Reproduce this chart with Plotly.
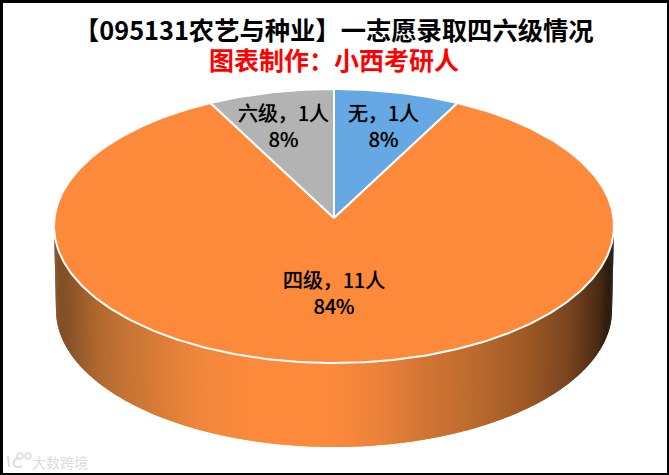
import numpy as np
import plotly.graph_objects as go

# ---- chart data ----
categories = ["无", "四级", "六级"]
counts = [1, 11, 1]
percents = [8, 84, 8]
slice_colors = ["#65A8E4", "#FD8A3B", "#B3B3B3"]
title_text = "【095131农艺与种业】一志愿录取四六级情况"
subtitle_text = "图表制作：小西考研人"
watermark_text = "大数跨境"

# ---- drawing geometry (axes run in window pixels) ----
CX, CY, RX, RY = 334.0, 226.0, 280.0, 137.0   # top face
BX, BY, BRX, BRY = 334.0, 310.0, 278.0, 137.0 # bottom rim
TILT = 8.0 / RY                               # apex sits above the ellipse centre
LABEL_R = [0.73, 0.53, 0.73]
LABEL_XSHIFT = [3, 0, -4]
FONT = "Noto Sans CJK SC"

# wall shading: x position -> colour
wall_x = [54, 70, 100, 130, 170, 200, 250, 330, 380, 430, 480, 530, 570, 600, 614]
wall_rgb = [(125, 76, 36), (138, 84, 40), (179, 106, 47), (199, 117, 53), (224, 127, 56),
            (240, 134, 59), (253, 138, 59), (253, 138, 59), (236, 130, 58), (208, 116, 52),
            (185, 106, 46), (156, 88, 38), (122, 69, 32), (74, 44, 20), (30, 18, 8)]


def project(theta, r=1.0):
    """Clockwise angle from 12 o'clock on the disc -> window pixels."""
    x, y = r * np.sin(theta), r * np.cos(theta)
    d = 1 + TILT * y
    return CX + RX * x * np.sqrt(1 - TILT ** 2) / d, CY - RY * (y + TILT) / d


fig = go.Figure()

# side wall: thin vertical strips along the front half of the rim
phi = np.linspace(np.pi, 0, 281)
tx, ty = CX + RX * np.cos(phi), CY + RY * np.sin(phi)
bx, by = BX + BRX * np.cos(phi), BY + BRY * np.sin(phi)
for i in range(len(phi) - 1):
    j = min(i + 2, len(phi) - 1)
    mid = (tx[i] + tx[j]) / 2
    c = [np.interp(mid, wall_x, [v[k] for v in wall_rgb]) for k in range(3)]
    col = f"rgb({c[0]:.0f},{c[1]:.0f},{c[2]:.0f})"
    fig.add_trace(go.Scatter(
        x=[tx[i], tx[j], bx[j], bx[i], tx[i]], y=[ty[i], ty[j], by[j], by[i], ty[i]],
        mode="lines", fill="toself", fillcolor=col, line=dict(width=0),
        hoverinfo="skip", showlegend=False))

# top face wedges, sized from the counts
total = sum(counts)
edges = np.cumsum([0] + counts) / total * 2 * np.pi
annotations = []
for k, name in enumerate(categories):
    th = np.linspace(edges[k], edges[k + 1], max(8, int(counts[k] * 40)))
    px, py = project(th)
    ax, ay = project(0.0, 0.0)
    fig.add_trace(go.Scatter(
        x=[ax, *px, ax], y=[ay, *py, ay], mode="lines", fill="toself",
        fillcolor=slice_colors[k], line=dict(color="white", width=2),
        name=name, hoverinfo="skip", showlegend=False))
    lx, ly = project((edges[k] + edges[k + 1]) / 2, LABEL_R[k])
    annotations.append(dict(
        x=float(lx), y=float(ly), xref="x", yref="y", showarrow=False,
        xshift=LABEL_XSHIFT[k],
        text=f"{name}，{counts[k]}人<br>{percents[k]}%",
        font=dict(family=FONT, size=20, color="black", shadow="0 0 0.7px #000")))

annotations += [
    dict(x=334, y=29, xref="x", yref="y", showarrow=False, text=f"<b>{title_text}</b>",
         font=dict(family=FONT, size=25.3, color="black")),
    dict(x=334, y=59, xref="x", yref="y", showarrow=False, text=f"<b>{subtitle_text}</b>",
         font=dict(family=FONT, size=25, color="#FF0000")),
    dict(x=60, y=462, xref="x", yref="y", showarrow=False, text=watermark_text,
         font=dict(family=FONT, size=14, color="#DCDCDC")),
]

fig.update_layout(
    width=669, height=475, autosize=False,
    paper_bgcolor="black", plot_bgcolor="white",
    margin=dict(l=3, r=2, t=3, b=2),
    xaxis=dict(range=[3, 667], visible=False, fixedrange=True),
    yaxis=dict(range=[473, 3], visible=False, fixedrange=True),
    annotations=annotations,
    shapes=[
        dict(type="circle", x0=17, x1=23, y0=453, y1=459, line=dict(color="#DCDCDC", width=1.5)),
        dict(type="circle", x0=25, x1=31, y0=453, y1=459, line=dict(color="#DCDCDC", width=1.5)),
        dict(type="path", path="M 8 456 L 9 467 M 18 458 C 11 460 12 470 22 466",
             line=dict(color="#DCDCDC", width=2)),
    ],
)

fig.write_html(
    "out.html",
    config=dict(displayModeBar=False, staticPlot=True),
    post_script="document.body.style.margin='0';document.body.style.overflow='hidden';",
)
